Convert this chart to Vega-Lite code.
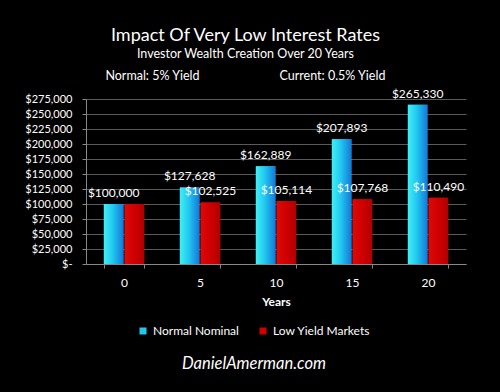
{
  "$schema": "https://vega.github.io/schema/vega-lite/v6.json",
  "width": 380,
  "height": 165,
  "autosize": {"type": "none"},
  "padding": {"left": 86, "top": 99, "right": 34, "bottom": 128},
  "background": "#000000",
  "title": {
    "text": "Impact Of Very Low Interest Rates",
    "subtitle": ["Investor Wealth Creation Over 20 Years", "Normal: 5% Yield\u00a0\u00a0\u00a0\u00a0\u00a0\u00a0\u00a0\u00a0\u00a0\u00a0\u00a0\u00a0\u00a0\u00a0\u00a0\u00a0\u00a0\u00a0\u00a0\u00a0\u00a0\u00a0\u00a0\u00a0\u00a0Current: 0.5% Yield"],
    "font": "Lato",
    "fontSize": 18,
    "fontWeight": "normal",
    "color": "#ffffff",
    "subtitleFont": "Lato",
    "subtitleFontSize": 12.5,
    "subtitleColor": "#ffffff",
    "subtitleLineHeight": 22,
    "subtitlePadding": 3,
    "anchor": "middle",
    "frame": "bounds",
    "offset": 5
  },
  "config": {
    "view": {"stroke": null},
    "axis": {
      "labelFont": "Lato",
      "labelColor": "#ffffff",
      "titleFont": "Lato",
      "titleColor": "#ffffff",
      "domainColor": "#888888",
      "tickColor": "#888888",
      "tickSize": 4
    }
  },
  "data": {
    "values": [
      {"year": "0", "series": "Normal Nominal", "value": 100000},
      {"year": "0", "series": "Low Yield Markets", "value": 100000},
      {"year": "5", "series": "Normal Nominal", "value": 127628},
      {"year": "5", "series": "Low Yield Markets", "value": 102525},
      {"year": "10", "series": "Normal Nominal", "value": 162889},
      {"year": "10", "series": "Low Yield Markets", "value": 105114},
      {"year": "15", "series": "Normal Nominal", "value": 207893},
      {"year": "15", "series": "Low Yield Markets", "value": 107768},
      {"year": "20", "series": "Normal Nominal", "value": 265330},
      {"year": "20", "series": "Low Yield Markets", "value": 110490}
    ]
  },
  "encoding": {
    "x": {
      "field": "year",
      "type": "ordinal",
      "sort": ["0", "5", "10", "15", "20"],
      "scale": {"paddingInner": 0.47, "paddingOuter": 0.235},
      "axis": {
        "title": "Years",
        "titleFontWeight": "bold",
        "titleFontSize": 12,
        "titlePadding": 8,
        "labelAngle": 0,
        "labelFontSize": 12,
        "labelPadding": 9,
        "tickBand": "extent",
        "grid": false
      }
    },
    "xOffset": {
      "field": "series",
      "type": "nominal",
      "scale": {"domain": ["Normal Nominal", "Low Yield Markets"], "paddingInner": 0.06}
    },
    "y": {
      "field": "value",
      "type": "quantitative",
      "scale": {"domain": [0, 275000], "nice": false},
      "axis": {
        "title": null,
        "values": [0, 25000, 50000, 75000, 100000, 125000, 150000, 175000, 200000, 225000, 250000, 275000],
        "labelExpr": "datum.value == 0 ? '$-\u00a0\u00a0' : '$' + format(datum.value, ',')",
        "labelFontSize": 11,
        "labelPadding": 10,
        "grid": true,
        "gridColor": "#5a5a5a",
        "gridWidth": 1
      }
    }
  },
  "layer": [
    {
      "mark": {"type": "bar"},
      "encoding": {
        "color": {
          "field": "series",
          "type": "nominal",
          "scale": {"domain": ["Normal Nominal", "Low Yield Markets"], "range": ["#1ec8ee", "#d00000"]},
          "legend": {
            "orient": "none",
            "legendX": 51,
            "legendY": 226,
            "padding": 0,
            "direction": "horizontal",
            "title": "DanielAmerman.com",
            "titleOrient": "bottom",
            "titleAnchor": "middle",
            "titleFont": "Lato",
            "titleFontSize": 16.5,
            "titleFontStyle": "italic",
            "titleFontWeight": "normal",
            "titleColor": "#ffffff",
            "titlePadding": 19,
            "labelFont": "Lato",
            "labelFontSize": 12,
            "labelColor": "#ffffff",
            "symbolType": "square",
            "symbolSize": 49,
            "symbolStrokeWidth": 0,
            "columnPadding": 18
          }
        }
      }
    },
    {
      "transform": [{"filter": "datum.series == 'Normal Nominal'"}],
      "mark": {
        "type": "bar",
        "fill": {"gradient": "linear", "x1": 0, "y1": 0, "x2": 1, "y2": 0,
          "stops": [{"offset": 0, "color": "#40f0f4"}, {"offset": 0.45, "color": "#22c8f0"}, {"offset": 1, "color": "#1478dc"}]}
      }
    },
    {
      "transform": [{"filter": "datum.series == 'Low Yield Markets'"}],
      "mark": {
        "type": "bar",
        "fill": {"gradient": "linear", "x1": 0, "y1": 0, "x2": 1, "y2": 0,
          "stops": [{"offset": 0, "color": "#dc0a0a"}, {"offset": 0.5, "color": "#d00000"}, {"offset": 1, "color": "#b00000"}]}
      }
    },
    {
      "transform": [{"filter": "!(datum.year == '0' && datum.series == 'Low Yield Markets')"}],
      "mark": {"type": "text", "font": "Lato", "fontSize": 12, "color": "#ffffff", "baseline": "alphabetic", "dy": -7},
      "encoding": {
        "text": {"field": "value", "type": "quantitative", "format": "$,.0f"}
      }
    }
  ]
}
